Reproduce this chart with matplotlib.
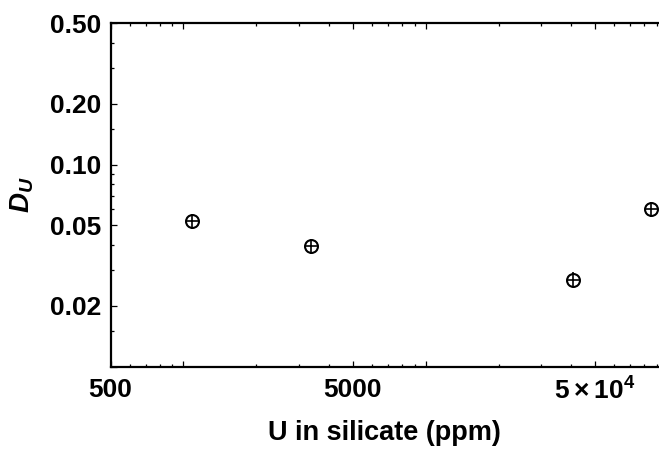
import matplotlib
matplotlib.use("Agg")
import matplotlib.pyplot as plt
from matplotlib.ticker import FixedLocator, FixedFormatter, NullFormatter

# ---- data ----
u_silicate = [1090, 3370, 40600, 85300]      # ppm
d_u = [0.0524, 0.0396, 0.0270, 0.0600]
d_u_err = [0.0045, 0.0034, 0.0023, 0.0052]

x_major = [500, 1000, 5000, 10000, 50000]
x_major_labels = ["500", "", "5000", "", r"$5\times10^{4}$"]
x_minor = [600, 700, 800, 900, 2000, 3000, 4000, 6000, 7000, 8000, 9000,
           20000, 30000, 40000, 60000, 70000, 80000, 90000]
y_major = [0.01, 0.02, 0.05, 0.1, 0.2, 0.5]
y_major_labels = ["", "0.02", "0.05", "0.10", "0.20", "0.50"]
y_minor = [0.015, 0.03, 0.04, 0.06, 0.07, 0.08, 0.09, 0.15, 0.3, 0.4]

plt.rcParams['font.family'] = ['Liberation Sans', 'DejaVu Sans']
plt.rcParams['font.weight'] = 'bold'
plt.rcParams['mathtext.fontset'] = 'custom'
plt.rcParams['mathtext.rm'] = 'Liberation Sans:bold'
plt.rcParams['mathtext.bf'] = 'Liberation Sans:bold'
plt.rcParams['mathtext.it'] = 'Liberation Sans:bold:italic'
plt.rcParams['mathtext.default'] = 'rm'

fig = plt.figure(figsize=(6.59, 4.49), dpi=100)
ax = fig.add_axes([0.1677, 0.1833, 1.0 - 0.1677, 0.948 - 0.1833])
ax.set_xscale('log')
ax.set_yscale('log')
ax.set_xlim(500, 91900)
ax.set_ylim(0.01, 0.5)

ax.errorbar(u_silicate, d_u, yerr=d_u_err, fmt='none', ecolor='black',
            elinewidth=1.2, capsize=0, zorder=3)
ax.plot(u_silicate, d_u, linestyle='none', marker='o', markersize=9.3,
        markerfacecolor='white', markeredgecolor='black', markeredgewidth=1.5, zorder=4)
ax.plot(u_silicate, d_u, linestyle='none', marker='+', markersize=9.0,
        markeredgecolor='black', markeredgewidth=1.2, zorder=5)

ax.xaxis.set_major_locator(FixedLocator(x_major))
ax.xaxis.set_major_formatter(FixedFormatter(x_major_labels))
ax.xaxis.set_minor_locator(FixedLocator(x_minor))
ax.xaxis.set_minor_formatter(NullFormatter())
ax.yaxis.set_major_locator(FixedLocator(y_major))
ax.yaxis.set_major_formatter(FixedFormatter(y_major_labels))
ax.yaxis.set_minor_locator(FixedLocator(y_minor))
ax.yaxis.set_minor_formatter(NullFormatter())

for s in ['left', 'bottom', 'top']:
    ax.spines[s].set_linewidth(1.6)
ax.spines['right'].set_visible(False)

ax.tick_params(which='both', direction='in', top=True, right=False, width=0.9)
ax.tick_params(which='major', length=4, labelsize=19)
ax.tick_params(which='minor', length=2.2)
ax.tick_params(axis='x', which='major', pad=8)
ax.tick_params(axis='y', which='major', pad=7)

ax.set_xlabel("U in silicate (ppm)", fontsize=19.5, fontweight='bold', labelpad=11)
ax.set_ylabel(r"$\mathit{D}_{\mathit{U}}$", fontsize=20, labelpad=10)

fig.savefig("out.png", dpi=100)
